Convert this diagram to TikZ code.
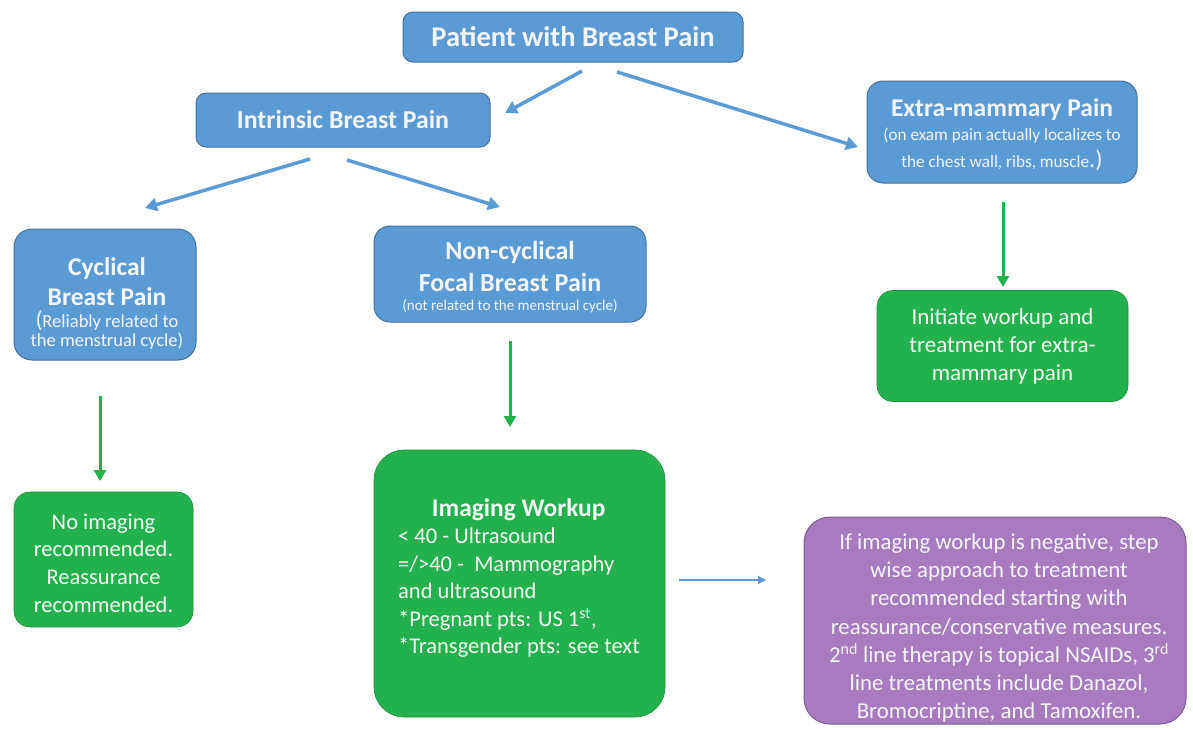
\documentclass[tikz,border=0pt]{standalone}
\usepackage{fontspec}
\setmainfont{Carlito}
\usetikzlibrary{arrows.meta}
\definecolor{bfill}{RGB}{91,155,213}
\definecolor{bdraw}{RGB}{65,113,156}
\definecolor{gfill}{RGB}{34,177,76}
\definecolor{pfill}{RGB}{168,122,192}
\definecolor{pdraw}{RGB}{120,90,150}
\definecolor{txt}{RGB}{245,245,245}
\newcommand{\fs}[2]{\fontsize{#1}{#2}\selectfont}
\tikzset{
  bluebox/.style={draw=bdraw, line width=1pt, fill=bfill, rounded corners=10pt, text=txt, align=center, inner sep=0pt},
  greenbox/.style={draw=gfill!80!black, line width=0.6pt, fill=gfill, rounded corners=14pt, text=txt, align=center, inner sep=0pt},
  purplebox/.style={draw=pdraw, line width=1pt, fill=pfill, rounded corners=26pt, text=txt, align=center, inner sep=0pt},
  boxtext/.style={text=txt, inner sep=0pt},
  bluearrow/.style={draw=bfill, line width=3.5pt, -{Triangle[length=12pt,width=13pt]}},
  greenarrow/.style={draw=gfill, line width=3pt, -{Triangle[length=11pt,width=12pt]}},
  thinarrow/.style={draw=bfill, line width=1.2pt, -{Triangle[length=8pt,width=8pt]}},
}
\begin{document}
\begin{tikzpicture}[x=1pt,y=-1pt]
\lineskiplimit=-1000pt
\useasboundingbox[fill=white] (0,0) rectangle (1193,729);

\node[bluebox, minimum width=340pt, minimum height=50pt, font=\fs{28.5}{32}\bfseries] (top) at (573,37)
  {Patient with Breast Pain};
\node[bluebox, minimum width=294pt, minimum height=54pt, font=\fs{25.8}{30}\bfseries] (intr) at (343,120)
  {Intrinsic Breast Pain};
\node[bluebox, minimum width=270pt, minimum height=102pt, rounded corners=16pt] (extra) at (1002,132) {};
\node[boxtext, align=center, font=\fs{17.2}{27}] (extratxt) at (1002,135)
  {{\fs{25.5}{30}\bfseries Extra-mammary Pain}\\[-3pt]
   (on exam pain actually localizes to\\
   the chest wall, ribs, muscle{\fs{24}{24}.)}};
\node[bluebox, minimum width=182pt, minimum height=131pt, rounded corners=18pt] (cyc) at (105,294.5) {};
\node[boxtext, align=center, font=\fs{18.5}{19}] (cyctxt) at (107,303.5)
  {{\fs{25.5}{30}\bfseries Cyclical}\\[11pt]
   {\fs{25.5}{30}\bfseries Breast Pain}\\[3.5pt]
   {\fs{23}{23}(}Reliably related to\\
   the menstrual cycle)};
\node[bluebox, minimum width=272pt, minimum height=96pt, rounded corners=16pt] (noncyc) at (510,274) {};
\node[boxtext, align=center, font=\fs{15}{19}] (noncyctxt) at (510,277)
  {{\fs{26}{30}\bfseries Non-cyclical}\\[13pt]
   {\fs{26}{30}\bfseries Focal Breast Pain}\\
   (not related to the menstrual cycle)};
\node[greenbox, minimum width=251pt, minimum height=111pt, rounded corners=16pt, font=\fs{23}{28}] (init) at (1002.5,346)
  {Initiate workup and\\ treatment for extra-\\ mammary pain};
\node[greenbox, minimum width=179pt, minimum height=135pt, rounded corners=16pt] (noimg) at (103.5,559.5) {};
\node[boxtext, align=center, font=\fs{22.5}{27.7}] (noimgtxt) at (103.5,563)
  {No imaging\\ recommended.\\ Reassurance\\ recommended.};
\node[greenbox, minimum width=291pt, minimum height=267pt, rounded corners=30pt] (img) at (519.5,583.5) {};
\node[boxtext, align=left, anchor=west, font=\fs{22.5}{27.4}] (imgtxt) at (398,578)
  {\makebox[241pt][c]{\fs{25.4}{27.4}\bfseries Imaging Workup}\\
   < 40 - Ultrasound\\
   =/>40 -\ \ Mammography\\
   and ultrasound\\
   *Pregnant pts: US 1\textsuperscript{st},\\
   *Transgender pts: see text};
\node[purplebox, minimum width=382pt, minimum height=207pt] (purp) at (995,620.5) {};
\node[boxtext, align=center, font=\fs{22.8}{28.2}] (purptxt) at (999,628)
  {If imaging workup is negative, step\\
   wise approach to treatment\\
   recommended starting with\\
   reassurance/conservative measures.\\
   2\textsuperscript{nd} line therapy is topical NSAIDs, 3\textsuperscript{rd}\\
   line treatments include Danazol,\\
   Bromocriptine, and Tamoxifen.};

% arrow end coordinates
\coordinate (a1s) at (582,71);  \coordinate (a1e) at (505,113);
\coordinate (a2s) at (617,72);  \coordinate (a2e) at (858,147);
\coordinate (a3s) at (310,159); \coordinate (a3e) at (145,208);
\coordinate (a4s) at (347,160); \coordinate (a4e) at (500,207);
\coordinate (g1s) at (1003,202); \coordinate (g1e) at (1003,287);
\coordinate (g2s) at (100,396);  \coordinate (g2e) at (100,481);
\coordinate (g3s) at (510,341);  \coordinate (g3e) at (510,427);
\coordinate (t1s) at (679,580);  \coordinate (t1e) at (766,580);

\draw[bluearrow] (a1s) -- (a1e);
\draw[bluearrow] (a2s) -- (a2e);
\draw[bluearrow] (a3s) -- (a3e);
\draw[bluearrow] (a4s) -- (a4e);
\draw[greenarrow] (g1s) -- (g1e);
\draw[greenarrow] (g2s) -- (g2e);
\draw[greenarrow] (g3s) -- (g3e);
\draw[thinarrow] (t1s) -- (t1e);
\end{tikzpicture}
\end{document}
